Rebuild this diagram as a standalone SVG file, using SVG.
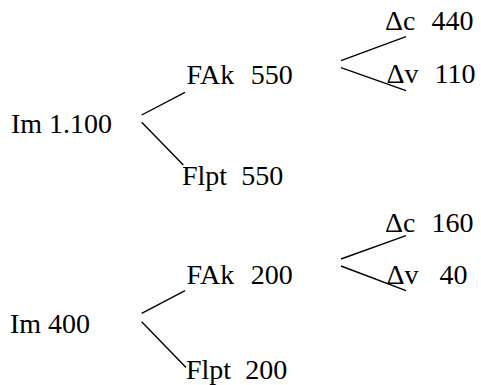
<svg xmlns="http://www.w3.org/2000/svg" width="481" height="385" viewBox="0 0 481 385">
<style>
.t{font-family:'Liberation Serif','Times New Roman','DejaVu Serif',serif;font-size:28px;fill:#000}
line{stroke:#000;stroke-width:1.4;fill:none}
</style>
<rect width="481" height="385" fill="#fff"/>
<g id="connectors">
<line x1="141.7" y1="115" x2="185" y2="92.3"/>
<line x1="141.7" y1="122.3" x2="183.3" y2="165"/>
<line x1="341" y1="60.7" x2="406" y2="36.7"/>
<line x1="341" y1="67.7" x2="406" y2="90.7"/>
<line x1="141.7" y1="313.3" x2="185" y2="290.7"/>
<line x1="141.7" y1="321.7" x2="186" y2="367.5"/>
<line x1="341" y1="259" x2="406" y2="235.7"/>
<line x1="341" y1="266" x2="406" y2="290.7"/>
</g>
<g id="im1"><text class="t" x="11" y="133" xml:space="preserve">Im 1.100</text></g>
<g id="fak1"><text class="t" x="186.5" y="84" xml:space="preserve">FAk<tspan dx="2.5">  550</tspan></text></g>
<g id="flpt1"><text class="t" x="182" y="184.5" xml:space="preserve">Flpt  550</text></g>
<g id="dc1"><text class="t" x="385" y="30" xml:space="preserve">Δc<tspan dx="2">  440</tspan></text></g>
<g id="dv1"><text class="t" x="386.5" y="83.3" xml:space="preserve">Δv<tspan dx="2">  110</tspan></text></g>
<g id="im2"><text class="t" x="10" y="333.3" xml:space="preserve">Im 400</text></g>
<g id="fak2"><text class="t" x="186.5" y="284.3" xml:space="preserve">FAk<tspan dx="2.5">  200</tspan></text></g>
<g id="flpt2"><text class="t" x="186" y="378.5" xml:space="preserve">Flpt  200</text></g>
<g id="dc2"><text class="t" x="385" y="232.3" xml:space="preserve">Δc<tspan dx="2">  160</tspan></text></g>
<g id="dv2"><text class="t" x="386.5" y="284.3" xml:space="preserve">Δv   40</text></g>
</svg>
